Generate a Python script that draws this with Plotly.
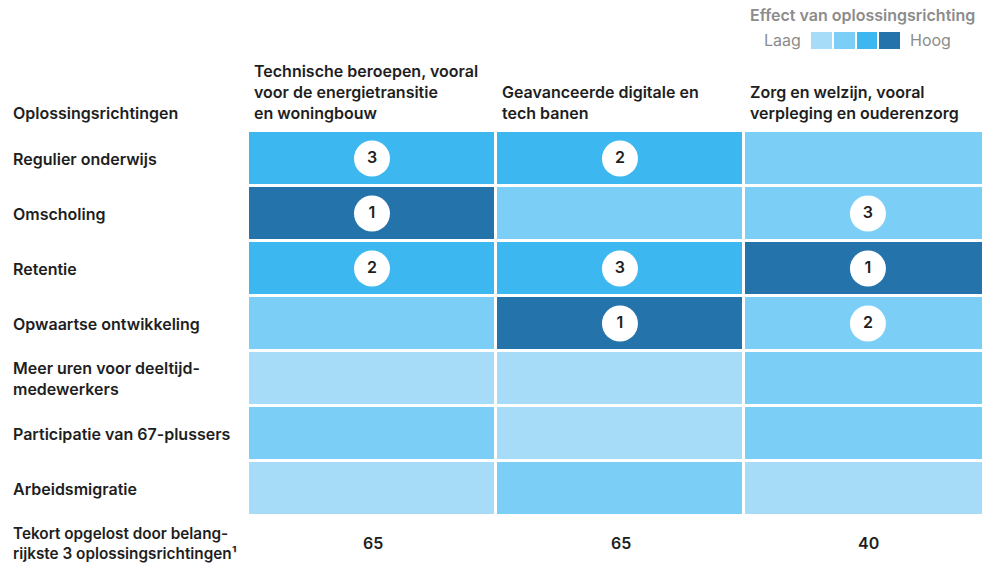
import plotly.graph_objects as go

# ---------------- data ----------------
columns = [
    "Technische beroepen, vooral<br>voor de energietransitie<br>en woningbouw",
    "Geavanceerde digitale en<br>tech banen",
    "Zorg en welzijn, vooral<br>verpleging en ouderenzorg",
]
rows = [
    "Regulier onderwijs",
    "Omscholing",
    "Retentie",
    "Opwaartse ontwikkeling",
    "Meer uren voor deeltijd-<br>medewerkers",
    "Participatie van 67-plussers",
    "Arbeidsmigratie",
]
# effect level 1 (laag) .. 4 (hoog)
effect = [
    [3, 3, 2],
    [4, 2, 2],
    [3, 3, 4],
    [2, 4, 2],
    [1, 1, 2],
    [2, 1, 2],
    [1, 2, 1],
]
# rank of the top-3 solution directions per column (None = not in top 3)
ranks = [
    [3, 2, None],
    [1, None, 3],
    [2, 3, 1],
    [None, 1, 2],
    [None, None, None],
    [None, None, None],
    [None, None, None],
]
totals = [65, 65, 40]
total_label = "Tekort opgelost door belang-<br>rijkste 3 oplossingsrichtingen¹"
row_header = "Oplossingsrichtingen"
legend_title = "Effect van oplossingsrichting"
legend_levels = [1, 2, 3, 4]
legend_low, legend_high = "Laag", "Hoog"

level_colors = ["#A6DCF8", "#7BCEF6", "#3DB7F0", "#2473AA"]

# ---------------- figure ----------------
W, H = 982, 565
FONT = "Inter"
DARK = "#1e1e1e"
GREY = "#8c8c8c"
FS = 16

n = len(level_colors)
cscale = []
for i, c in enumerate(level_colors):
    cscale.append([i / n, c])
    cscale.append([(i + 1) / n, c])

xs = list(range(len(columns)))
ys = list(range(len(rows)))

fig = go.Figure()

fig.add_trace(go.Heatmap(
    z=effect, x=xs, y=ys,
    colorscale=cscale, zmin=0.5, zmax=4.5,
    xgap=3, ygap=3, showscale=False, hoverinfo="skip",
))

# rank circles
cx, cy, ct = [], [], []
for r, rowvals in enumerate(ranks):
    for c, v in enumerate(rowvals):
        if v is not None:
            cx.append(c)
            cy.append(r)
            ct.append(str(v))
fig.add_trace(go.Scatter(
    x=cx, y=cy, text=ct, mode="markers+text",
    marker=dict(size=36, color="white", line=dict(width=0)),
    textfont=dict(family=FONT, size=16, color=DARK, weight=600),
    textposition="middle center", hoverinfo="skip", showlegend=False,
))

# legend swatches
fig.add_trace(go.Heatmap(
    z=[legend_levels], x=list(range(len(legend_levels))), y=[0],
    colorscale=cscale, zmin=0.5, zmax=4.5, xgap=2,
    showscale=False, hoverinfo="skip", xaxis="x2", yaxis="y2",
))

top_px, bot_px = 131, 516
fig.update_layout(
    width=W, height=H,
    margin=dict(l=0, r=0, t=0, b=0),
    paper_bgcolor="white", plot_bgcolor="white",
    showlegend=False,
    xaxis=dict(domain=[248 / W, 1.0], range=[-0.5, 2.46], visible=False, fixedrange=True),
    yaxis=dict(domain=[(H - bot_px) / H, (H - top_px) / H], range=[len(rows) - 0.5, -0.5],
               visible=False, fixedrange=True),
    xaxis2=dict(domain=[810 / W, 901 / W], range=[-0.5, 3.5], visible=False, anchor="y2",
                fixedrange=True),
    yaxis2=dict(domain=[(H - 49) / H, (H - 32) / H], range=[-0.5, 0.5], visible=False,
                anchor="x2", fixedrange=True),
)

ann = []
# row labels
for r, lab in enumerate(rows):
    ann.append(dict(text=lab, x=11 / W, xref="paper", y=r, yref="y",
                    xanchor="left", yanchor="middle", align="left", showarrow=False,
                    font=dict(family=FONT, size=FS, color=DARK, weight=600)))
# row header
ann.append(dict(text=row_header, x=11 / W, xref="paper", y=(H - 125) / H, yref="paper",
                xanchor="left", yanchor="bottom", align="left", showarrow=False,
                font=dict(family=FONT, size=FS, color=DARK, weight=600)))
# column headers
for c, lab in enumerate(columns):
    ann.append(dict(text=lab, x=c - 0.5, xref="x", xshift=4, y=(H - 125) / H, yref="paper",
                    xanchor="left", yanchor="bottom", align="left", showarrow=False,
                    font=dict(family=FONT, size=FS, color=DARK, weight=600)))
# totals
ann.append(dict(text=total_label, x=11 / W, xref="paper", y=(H - 543) / H, yref="paper",
                xanchor="left", yanchor="middle", align="left", showarrow=False,
                font=dict(family=FONT, size=15.3, color=DARK, weight=600)))
for c, v in enumerate(totals):
    ann.append(dict(text=str(v), x=c, xref="x", xshift=1, y=(H - 543) / H, yref="paper",
                    xanchor="center", yanchor="middle", showarrow=False,
                    font=dict(family=FONT, size=FS, color=DARK, weight=600)))
# legend texts
ann.append(dict(text=legend_title, x=977 / W, xref="paper", y=(H - 15) / H, yref="paper",
                xanchor="right", yanchor="middle", showarrow=False,
                font=dict(family=FONT, size=FS, color=GREY, weight=600)))
ann.append(dict(text=legend_low, x=803 / W, xref="paper", y=(H - 40) / H, yref="paper",
                xanchor="right", yanchor="middle", showarrow=False,
                font=dict(family=FONT, size=FS, color=GREY)))
ann.append(dict(text=legend_high, x=908 / W, xref="paper", y=(H - 40) / H, yref="paper",
                xanchor="left", yanchor="middle", showarrow=False,
                font=dict(family=FONT, size=FS, color=GREY)))

fig.update_layout(annotations=ann)
fig.write_html("out.html", config={"displayModeBar": False, "staticPlot": True},
               post_script="document.body.style.margin='0';document.body.style.padding='0';")
